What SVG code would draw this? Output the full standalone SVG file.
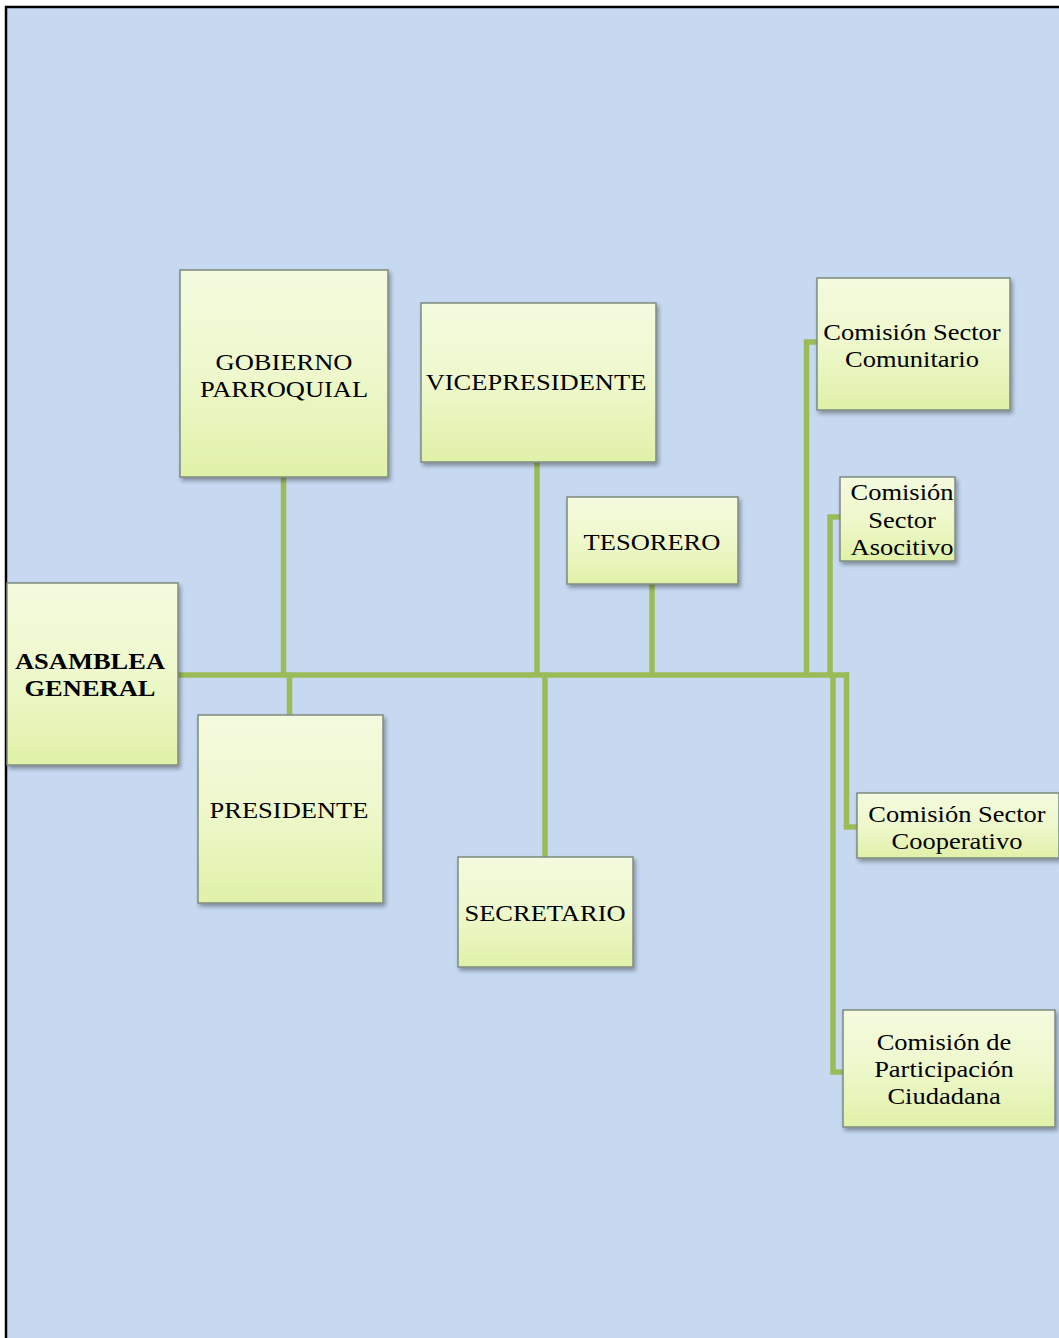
<svg xmlns="http://www.w3.org/2000/svg" width="1059" height="1338" viewBox="0 0 1059 1338">
<defs>
<linearGradient id="g" x1="0" y1="0" x2="0" y2="1">
<stop offset="0" stop-color="#F4FADE"/>
<stop offset="0.5" stop-color="#EEF8CC"/>
<stop offset="1" stop-color="#E0F1A8"/>
</linearGradient>
<filter id="sh" x="-10%" y="-10%" width="125%" height="125%">
<feGaussianBlur in="SourceAlpha" stdDeviation="2"/>
<feOffset dx="2" dy="3" result="b"/>
<feComponentTransfer><feFuncA type="linear" slope="0.35"/></feComponentTransfer>
<feMerge><feMergeNode/><feMergeNode in="SourceGraphic"/></feMerge>
</filter>
</defs>
<style>
.box{fill:url(#g);stroke:#7E8A80;stroke-width:1.5;filter:url(#sh)}
.t{font-family:"Liberation Serif","Times New Roman",serif;font-size:24px;fill:#000;text-anchor:middle}
.b{font-weight:bold}
.c{fill:none;stroke:#9BBB59;stroke-width:5.5}
</style>
<rect x="6" y="7" width="1060" height="1340" fill="#C6D9F0" stroke="#000" stroke-width="2.5"/>
<g id="connectors">
<line class="c" x1="178" y1="675" x2="848" y2="675"/>
<line class="c" x1="283.5" y1="477" x2="283.5" y2="675"/>
<line class="c" x1="289.5" y1="675" x2="289.5" y2="715"/>
<line class="c" x1="537" y1="462" x2="537" y2="675"/>
<line class="c" x1="545" y1="675" x2="545" y2="857"/>
<line class="c" x1="652" y1="584" x2="652" y2="675"/>
<polyline class="c" points="817,342 806.5,342 806.5,675"/>
<polyline class="c" points="840,517 830,517 830,675"/>
<polyline class="c" points="845,675 846.5,675 846.5,827 857,827"/>
<polyline class="c" points="833,675 833,1072 843,1072"/>
</g>
<g id="asamblea">
<rect class="box" x="7" y="583" width="171" height="182"/>
<g transform="translate(90,0) scale(1.104,1)">
<text class="t b" x="0" y="669">ASAMBLEA</text>
<text class="t b" x="0" y="696">GENERAL</text>
</g>
</g>
<g id="gobierno">
<rect class="box" x="180" y="270" width="208" height="207"/>
<g transform="translate(284,0) scale(1.104,1)">
<text class="t" x="0" y="370">GOBIERNO</text>
<text class="t" x="0" y="397">PARROQUIAL</text>
</g>
</g>
<g id="presidente">
<rect class="box" x="198" y="715" width="185" height="188"/>
<g transform="translate(289,0) scale(1.104,1)">
<text class="t" x="0" y="818">PRESIDENTE</text>
</g>
</g>
<g id="vicepresidente">
<rect class="box" x="421" y="303" width="235" height="159"/>
<g transform="translate(536,0) scale(1.104,1)">
<text class="t" x="0" y="390">VICEPRESIDENTE</text>
</g>
</g>
<g id="tesorero">
<rect class="box" x="567" y="497" width="171" height="87"/>
<g transform="translate(652,0) scale(1.104,1)">
<text class="t" x="0" y="550">TESORERO</text>
</g>
</g>
<g id="secretario">
<rect class="box" x="458" y="857" width="175" height="110"/>
<g transform="translate(545,0) scale(1.104,1)">
<text class="t" x="0" y="921">SECRETARIO</text>
</g>
</g>
<g id="comunitario">
<rect class="box" x="817" y="278" width="193" height="132"/>
<g transform="translate(912,0) scale(1.104,1)">
<text class="t" x="0" y="340">Comisión Sector</text>
<text class="t" x="0" y="367">Comunitario</text>
</g>
</g>
<g id="asocitivo">
<rect class="box" x="840" y="477" width="115" height="84"/>
<g transform="translate(902,0) scale(1.104,1)">
<text class="t" x="0" y="500">Comisión</text>
<text class="t" x="0" y="528">Sector</text>
<text class="t" x="0" y="555">Asocitivo</text>
</g>
</g>
<g id="cooperativo">
<rect class="box" x="857" y="793" width="202" height="65"/>
<g transform="translate(957,0) scale(1.104,1)">
<text class="t" x="0" y="822">Comisión Sector</text>
<text class="t" x="0" y="849">Cooperativo</text>
</g>
</g>
<g id="participacion">
<rect class="box" x="843" y="1010" width="212" height="117"/>
<g transform="translate(944,0) scale(1.104,1)">
<text class="t" x="0" y="1050">Comisión de</text>
<text class="t" x="0" y="1077">Participación</text>
<text class="t" x="0" y="1104">Ciudadana</text>
</g>
</g>
</svg>
